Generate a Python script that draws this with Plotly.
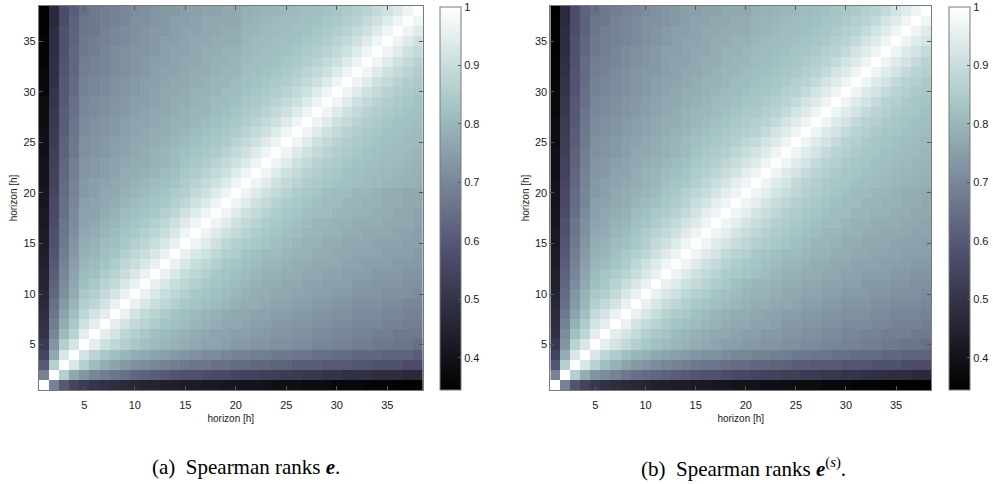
import plotly.graph_objects as go

# ---------------- data ----------------
horizons = list(range(1, 39))
axis_ticks = [5, 10, 15, 20, 25, 30, 35]
cbar_ticks = [0.4, 0.5, 0.6, 0.7, 0.8, 0.9, 1.0]
cbar_labels = ["0.4", "0.5", "0.6", "0.7", "0.8", "0.9", "1"]
axis_title = "horizon [h]"
captions = ["(a)\u2002Spearman ranks <b><i>e</i></b>.",
            "(b)\u2002Spearman ranks <b><i>e</i></b><sup>(<i>s</i>)</sup>."]

# rho_a[k]: rank correlation of horizon k+1 with horizons k+2 ... 38 (panel a)
rho_a = [
    [.69, .60, .55, .52, .50, .49, .48, .47, .46, .45, .45, .44, .44, .43, .43, .42, .42, .41, .41, .40, .40, .40, .39, .39, .39, .38, .38, .38, .37, .37, .37, .36, .36, .36, .35, .35, .35],
    [.86, .77, .73, .70, .68, .66, .65, .63, .62, .61, .60, .59, .58, .58, .57, .56, .56, .55, .54, .54, .53, .53, .52, .52, .51, .51, .50, .50, .49, .49, .49, .48, .48, .48, .47, .47],
    [.93, .86, .81, .78, .76, .74, .72, .71, .70, .69, .68, .67, .66, .66, .65, .65, .64, .64, .63, .63, .62, .62, .61, .61, .61, .60, .60, .60, .59, .59, .58, .58, .58, .57, .57],
    [.92, .87, .84, .82, .80, .78, .77, .76, .75, .74, .73, .72, .71, .71, .70, .69, .69, .68, .68, .67, .67, .66, .66, .65, .65, .64, .64, .63, .63, .63, .62, .62, .62, .61],
    [.95, .91, .88, .86, .84, .82, .81, .80, .79, .78, .77, .76, .76, .75, .74, .74, .73, .73, .72, .72, .71, .71, .70, .70, .69, .69, .68, .68, .67, .67, .66, .66, .65],
    [.95, .92, .88, .86, .84, .82, .81, .80, .79, .78, .77, .76, .76, .75, .75, .74, .74, .73, .73, .72, .72, .71, .71, .70, .70, .69, .69, .68, .68, .67, .67, .67],
    [.95, .92, .89, .87, .85, .83, .82, .81, .80, .79, .78, .77, .77, .76, .75, .75, .74, .74, .73, .73, .72, .72, .71, .71, .70, .70, .70, .69, .69, .68, .68],
    [.96, .92, .89, .87, .85, .83, .82, .81, .80, .79, .78, .77, .77, .76, .76, .75, .75, .74, .74, .73, .73, .72, .72, .71, .71, .71, .70, .70, .69, .69],
    [.96, .93, .90, .88, .86, .84, .83, .82, .81, .80, .79, .78, .78, .77, .76, .76, .75, .75, .74, .74, .73, .73, .72, .72, .72, .71, .71, .70, .70],
    [.96, .93, .90, .88, .86, .84, .83, .82, .81, .80, .79, .78, .78, .77, .77, .76, .76, .75, .75, .74, .74, .73, .73, .73, .72, .72, .72, .71],
    [.96, .93, .90, .88, .86, .84, .83, .82, .81, .80, .79, .78, .78, .77, .77, .76, .76, .75, .75, .75, .74, .74, .73, .73, .73, .72, .72],
    [.96, .93, .90, .88, .86, .84, .83, .82, .81, .80, .79, .79, .78, .78, .77, .77, .76, .76, .75, .75, .75, .74, .74, .74, .73, .73],
    [.96, .93, .90, .88, .86, .84, .83, .82, .81, .80, .80, .79, .78, .78, .77, .77, .77, .76, .76, .75, .75, .75, .74, .74, .74],
    [.96, .93, .91, .88, .86, .85, .83, .82, .81, .81, .80, .79, .79, .78, .78, .77, .77, .76, .76, .76, .75, .75, .75, .74],
    [.97, .94, .91, .88, .86, .85, .84, .83, .82, .81, .80, .79, .79, .78, .78, .77, .77, .77, .76, .76, .76, .75, .75],
    [.97, .94, .91, .89, .87, .85, .84, .83, .82, .81, .80, .80, .79, .79, .78, .78, .77, .77, .77, .76, .76, .75],
    [.97, .94, .91, .89, .87, .85, .84, .83, .82, .81, .80, .80, .79, .79, .78, .78, .78, .77, .77, .77, .76],
    [.97, .94, .91, .89, .87, .85, .84, .83, .82, .81, .81, .80, .80, .79, .79, .78, .78, .77, .77, .76],
    [.97, .94, .91, .89, .87, .85, .84, .83, .82, .81, .81, .80, .80, .79, .79, .78, .78, .77, .77],
    [.97, .94, .91, .89, .87, .85, .84, .83, .82, .81, .81, .80, .80, .79, .78, .78, .77, .77],
    [.97, .94, .91, .89, .87, .855, .845, .835, .825, .82, .815, .81, .805, .80, .795, .79, .785],
    [.97, .94, .91, .89, .87, .855, .845, .835, .825, .82, .815, .81, .805, .80, .795, .79],
    [.97, .94, .91, .89, .87, .855, .845, .835, .825, .82, .815, .81, .805, .80, .795],
    [.97, .94, .91, .89, .87, .855, .845, .835, .825, .82, .815, .81, .805, .80],
    [.97, .94, .91, .89, .87, .855, .845, .835, .825, .82, .815, .81, .805],
    [.97, .94, .91, .89, .87, .855, .845, .835, .825, .82, .815, .81],
    [.97, .94, .91, .89, .87, .855, .845, .835, .825, .82, .815],
    [.97, .94, .91, .89, .87, .855, .845, .835, .825, .82],
    [.97, .94, .91, .89, .87, .855, .845, .835, .825],
    [.97, .94, .91, .89, .87, .855, .845, .835],
    [.97, .94, .91, .89, .87, .855, .845],
    [.97, .94, .91, .89, .87, .855],
    [.97, .94, .91, .89, .87],
    [.97, .94, .91, .89],
    [.97, .94, .91],
    [.97, .94],
    [.97],
]

# rho_b[k]: same for the standardised errors e^(s) (panel b)
rho_b = [
    [.69, .59, .54, .51, .49, .48, .47, .46, .45, .44, .44, .43, .43, .42, .42, .41, .41, .40, .40, .40, .39, .39, .39, .38, .38, .38, .37, .37, .37, .36, .36, .36, .35, .35, .35, .35, .34],
    [.86, .78, .73, .71, .69, .67, .65, .64, .63, .62, .61, .60, .59, .58, .58, .57, .56, .56, .55, .54, .54, .53, .53, .52, .52, .51, .51, .50, .50, .49, .49, .48, .48, .48, .47, .47],
    [.93, .87, .82, .79, .76, .74, .73, .71, .70, .69, .68, .67, .66, .66, .65, .64, .64, .63, .63, .62, .62, .61, .61, .60, .60, .60, .59, .59, .59, .58, .58, .58, .57, .57, .57],
    [.93, .88, .85, .82, .80, .79, .77, .76, .75, .74, .73, .72, .72, .71, .70, .70, .69, .69, .68, .68, .67, .67, .66, .66, .65, .65, .64, .64, .64, .63, .63, .62, .62, .62],
    [.95, .92, .89, .86, .84, .82, .81, .80, .79, .78, .77, .76, .75, .75, .74, .74, .73, .73, .72, .72, .71, .71, .70, .70, .69, .69, .68, .68, .67, .67, .66, .66, .65],
    [.95, .92, .89, .86, .84, .83, .81, .80, .79, .78, .77, .77, .76, .75, .75, .74, .74, .73, .73, .72, .72, .71, .71, .70, .70, .69, .69, .68, .68, .68, .67, .67],
    [.96, .92, .89, .87, .85, .83, .82, .81, .80, .79, .78, .77, .77, .76, .76, .75, .74, .74, .73, .73, .72, .72, .71, .71, .71, .70, .70, .69, .69, .69, .68],
    [.96, .93, .90, .87, .85, .84, .82, .81, .80, .79, .78, .78, .77, .76, .76, .75, .75, .74, .74, .73, .73, .72, .72, .72, .71, .71, .70, .70, .70, .69],
    [.96, .93, .90, .88, .86, .84, .83, .82, .81, .80, .79, .78, .78, .77, .77, .76, .75, .75, .74, .74, .73, .73, .73, .72, .72, .71, .71, .71, .70],
    [.96, .93, .91, .88, .86, .85, .83, .82, .81, .80, .79, .79, .78, .77, .77, .76, .76, .75, .75, .74, .74, .74, .73, .73, .72, .72, .72, .71],
    [.96, .94, .91, .89, .87, .85, .84, .82, .81, .80, .80, .79, .78, .78, .77, .77, .76, .76, .75, .75, .74, .74, .74, .73, .73, .72, .72],
    [.97, .94, .91, .89, .87, .85, .84, .83, .82, .81, .80, .79, .79, .78, .78, .77, .77, .76, .76, .75, .75, .75, .74, .74, .73, .73],
    [.97, .94, .91, .89, .87, .85, .84, .83, .82, .81, .80, .80, .79, .78, .78, .77, .77, .76, .76, .76, .75, .75, .75, .74, .74],
    [.97, .94, .92, .89, .87, .86, .84, .83, .82, .81, .81, .80, .79, .79, .78, .78, .77, .77, .76, .76, .76, .75, .75, .75],
    [.97, .94, .92, .90, .88, .86, .85, .84, .83, .82, .81, .80, .80, .79, .78, .78, .77, .77, .77, .76, .76, .76, .75],
    [.97, .95, .92, .90, .88, .86, .85, .84, .83, .82, .81, .80, .80, .79, .79, .78, .78, .77, .77, .77, .76, .76],
    [.97, .95, .92, .90, .88, .86, .85, .84, .83, .82, .81, .81, .80, .79, .79, .78, .78, .78, .77, .77, .76],
    [.97, .95, .92, .90, .88, .86, .85, .84, .83, .82, .81, .81, .80, .80, .79, .79, .78, .78, .77, .77],
    [.97, .95, .92, .90, .88, .86, .85, .84, .83, .82, .81, .81, .80, .80, .79, .79, .78, .78, .77],
    [.97, .95, .92, .90, .88, .86, .85, .84, .83, .82, .81, .81, .80, .80, .79, .78, .78, .77],
    [.97, .94, .92, .89, .87, .86, .845, .835, .83, .82, .815, .81, .805, .80, .795, .79, .785],
    [.97, .94, .92, .89, .87, .86, .845, .835, .83, .82, .815, .81, .805, .80, .795, .79],
    [.97, .94, .92, .89, .87, .86, .845, .835, .83, .82, .815, .81, .805, .80, .795],
    [.97, .94, .92, .89, .87, .86, .845, .835, .83, .82, .815, .81, .805, .80],
    [.97, .94, .92, .89, .87, .86, .845, .835, .83, .82, .815, .81, .805],
    [.97, .94, .92, .89, .87, .86, .845, .835, .83, .82, .815, .81],
    [.97, .94, .92, .89, .87, .86, .845, .835, .83, .82, .815],
    [.97, .94, .92, .89, .87, .86, .845, .835, .83, .82],
    [.97, .94, .92, .89, .87, .86, .845, .835, .83],
    [.97, .94, .92, .89, .87, .86, .845, .835],
    [.97, .94, .92, .89, .87, .86, .845],
    [.97, .94, .92, .89, .87, .86],
    [.97, .94, .92, .89, .87],
    [.97, .94, .92, .89],
    [.97, .94, .92],
    [.97, .94],
    [.97],
]


def full_matrix(rows):
    n = len(horizons)
    z = [[1.0] * n for _ in range(n)]
    for a, row in enumerate(rows):
        for k, v in enumerate(row):
            b = a + 1 + k
            z[a][b] = v
            z[b][a] = v
    return z


# MATLAB / matplotlib "bone" colour map
bone = [
    [0.0, "rgb(0,0,0)"],
    [0.365079, "rgb(81,81,113)"],
    [0.746032, "rgb(166,198,198)"],
    [1.0, "rgb(255,255,255)"],
]

W, H = 993, 484
ZMIN, ZMAX = 0.345, 1.0

panels = [
    dict(rows=rho_a, x0=39, x1=424, cb=441, cap=247),
    dict(rows=rho_b, x0=552, x1=934, cb=952, cap=746),
]
y_top, y_bot = 6, 390

fig = go.Figure()
SANS = "Liberation Sans, Arial, sans-serif"
tick_font = dict(family=SANS, size=11, color="#1a1a1a")
title_font = dict(family=SANS, size=10, color="#1a1a1a")

for i, p in enumerate(panels):
    sfx = "" if i == 0 else str(i + 1)
    fig.add_trace(go.Heatmap(
        x=horizons, y=horizons, z=full_matrix(p["rows"]),
        colorscale=bone, zmin=ZMIN, zmax=ZMAX,
        xaxis="x" + sfx, yaxis="y" + sfx,
        colorbar=dict(
            x=p["cb"] / W, xanchor="left", xpad=0,
            y=(H - y_bot) / H, yanchor="bottom", ypad=0,
            len=(y_bot - 7) / H, lenmode="fraction",
            thickness=21, thicknessmode="pixels",
            outlinecolor="#7a7a7a", outlinewidth=1,
            tickvals=cbar_ticks, ticktext=cbar_labels,
            ticks="inside", ticklen=3, tickcolor="#555555",
            tickfont=tick_font,
        ),
        hoverinfo="skip",
    ))
    ax = dict(
        range=[0.5, 38.5], tickvals=axis_ticks,
        ticks="inside", ticklen=4, tickcolor="#555555",
        showline=True, linecolor="#7a7a7a", linewidth=1, mirror="ticks",
        showgrid=False, zeroline=False, tickfont=tick_font,
    )
    fig.layout["xaxis" + sfx] = dict(
        ax, domain=[p["x0"] / W, p["x1"] / W], anchor="y" + sfx,
        ticklabelstandoff=5,
        title=dict(text=axis_title, font=title_font, standoff=4),
    )
    fig.layout["yaxis" + sfx] = dict(
        ax, domain=[(H - y_bot) / H, (H - y_top) / H], anchor="x" + sfx,
        title=dict(text=axis_title, font=title_font, standoff=3),
    )
    fig.add_annotation(
        text=captions[i], x=p["cap"] / W, y=(H - 467) / H,
        xref="paper", yref="paper", xanchor="center", yanchor="middle",
        showarrow=False, font=dict(family="Liberation Serif, Times New Roman, serif", size=21, color="black"),
    )

fig.update_layout(
    width=W, height=H, margin=dict(l=0, r=0, t=0, b=0),
    paper_bgcolor="white", plot_bgcolor="white", showlegend=False,
)

fig.write_html("out.html")
